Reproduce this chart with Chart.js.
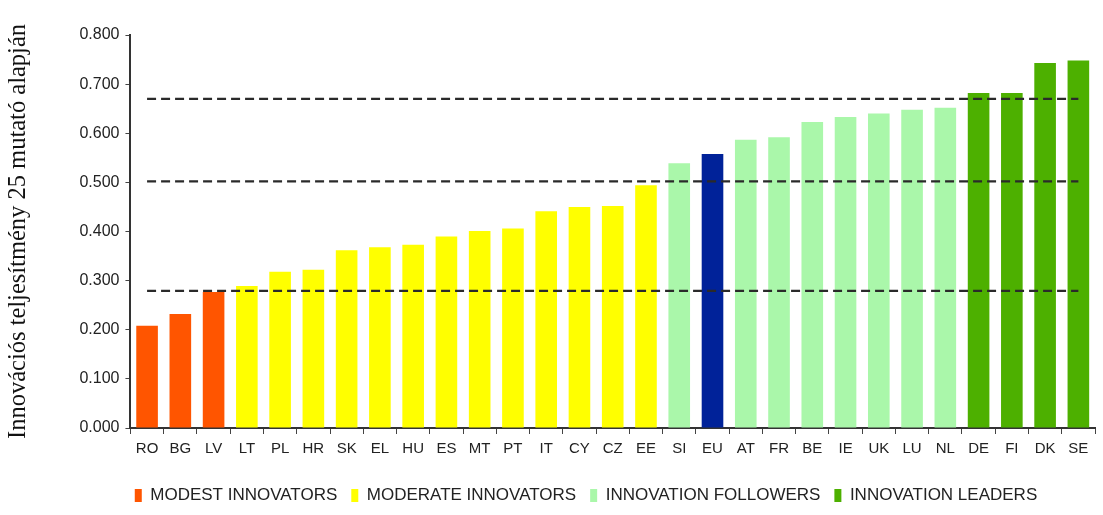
<!DOCTYPE html>
<html><head><meta charset="utf-8">
<script src="https://cdn.jsdelivr.net/npm/chart.js@4.4.1/dist/chart.umd.min.js"></script>
<style>html,body{margin:0;padding:0;background:#fff}#w{width:1103px;height:515px}</style>
</head><body><div id="w"><canvas id="c" width="1103" height="515"></canvas></div>
<script>
const categories = ["RO","BG","LV","LT","PL","HR","SK","EL","HU","ES","MT","PT","IT","CY","CZ","EE","SI","EU","AT","FR","BE","IE","UK","LU","NL","DE","FI","DK","SE"];
const values = [0.208,0.232,0.277,0.289,0.318,0.322,0.362,0.368,0.373,0.390,0.401,0.406,0.441,0.450,0.452,0.494,0.539,0.558,0.587,0.592,0.623,0.633,0.640,0.648,0.652,0.682,0.682,0.743,0.748];
const groups = ["modest","modest","modest","moderate","moderate","moderate","moderate","moderate","moderate","moderate","moderate","moderate","moderate","moderate","moderate","moderate","follower","eu","follower","follower","follower","follower","follower","follower","follower","leader","leader","leader","leader"];
const groupKeys = ["modest","moderate","follower","leader","eu"];
const groupNames = ["MODEST INNOVATORS","MODERATE INNOVATORS","INNOVATION FOLLOWERS","INNOVATION LEADERS","EU"];
const groupColors = ["#FF5500","#FFFF00","#AAF7AA","#4DB000","#002299"];
const thresholds = [0.279,0.502,0.670];
const yTicks = [0,0.1,0.2,0.3,0.4,0.5,0.6,0.7,0.8];

const datasets = groupKeys.map((g,i)=>({
  type:'bar', label:groupNames[i],
  data: values.map((v,j)=>groups[j]===g?v:null),
  backgroundColor: groupColors[i], borderWidth:0,
  grouped:false, barPercentage:0.65, categoryPercentage:1, order:2
}));
thresholds.forEach(t=>datasets.push({
  type:'line', label:'thr', data: categories.map(()=>t),
  borderColor:'#2a2a2a', borderWidth:2.2, borderDash:[9,5], pointRadius:0, fill:false, order:1
}));

const legendShift = {
  id:'legendShift',
  afterLayout(chart){
    const lg = chart.legend; if(!lg) return;
    const off = 586 - (lg.left + lg.right)/2;
    lg.left += off; lg.right += off;
  }
};

new Chart(document.getElementById('c'),{
  data:{labels:categories, datasets},
  plugins:[legendShift],
  options:{
    responsive:false, animation:false, devicePixelRatio:1,
    layout:{padding:{left:4,right:8,top:35,bottom:1}},
    plugins:{
      tooltip:{enabled:false},
      legend:{position:'bottom',
        labels:{font:{family:'Liberation Sans',size:17},color:'#222',boxWidth:7,boxHeight:13,padding:14,
          filter:(item)=>item.datasetIndex<4}
      }
    },
    scales:{
      x:{grid:{display:true,drawOnChartArea:false,drawTicks:true,tickLength:6,color:'#444'},
         border:{color:'#333',width:2},
         afterFit:(ax)=>{ax.height+=9;},
         ticks:{font:{family:'Liberation Sans',size:15},color:'#222',maxRotation:0,autoSkip:false,padding:6}},
      y:{min:0,max:0.8,
         afterBuildTicks:(ax)=>{ax.ticks=yTicks.map(v=>({value:v}));},
         grid:{display:true,drawOnChartArea:false,drawTicks:true,tickLength:5,color:'#444'},
         border:{color:'#333',width:2},
         ticks:{font:{family:'Liberation Sans',size:16},color:'#222',padding:6,callback:(v)=>Number(v).toFixed(3)},
         title:{display:true,text:'Innovációs teljesítmény 25 mutató alapján',font:{family:'Liberation Serif',size:24.5},color:'#111',padding:{top:0,bottom:40}}
      }
    }
  }
});
</script></body></html>
